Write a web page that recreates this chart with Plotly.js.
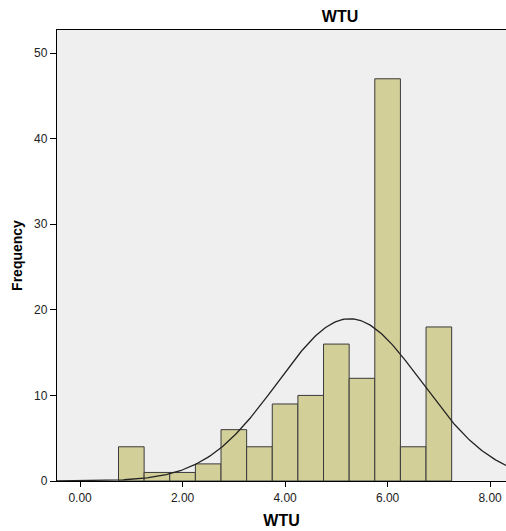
<!DOCTYPE html>
<html>
<head>
<meta charset="utf-8">
<script src="https://cdn.plot.ly/plotly-3.0.1.min.js"></script>
<style>html,body{margin:0;padding:0;background:#fff}#chart{width:506px;height:531px}</style>
</head>
<body>
<div id="chart"></div>
<script>
// Histogram bins (centers) and frequencies
const binCenters = [1.0, 1.5, 2.0, 2.5, 3.0, 3.5, 4.0, 4.5, 5.0, 5.5, 6.0, 6.5, 7.0];
const frequencies = [4, 1, 1, 2, 6, 4, 9, 10, 16, 12, 47, 4, 18];
const binWidth = 0.5;
// Normal curve parameters (SPSS-style fitted normal)
const curveMean = 5.26;
const curveSD = 1.41;
const xTickVals = [0, 2, 4, 6, 8];
const xTickText = ["0.00", "2.00", "4.00", "6.00", "8.00"];
const yTickVals = [0, 10, 20, 30, 40, 50];

const N = frequencies.reduce((a, b) => a + b, 0);
const xMin = -0.45, xMax = 8.31;
const cx = [], cy = [];
for (let i = 0; i <= 300; i++) {
  const x = xMin + (xMax - xMin) * i / 300;
  cx.push(x);
  cy.push(N * binWidth / (curveSD * Math.sqrt(2 * Math.PI)) *
    Math.exp(-Math.pow(x - curveMean, 2) / (2 * curveSD * curveSD)));
}

const traces = [
  {
    type: 'bar', x: binCenters, y: frequencies, width: binWidth,
    marker: {color: '#d3cf99', line: {color: '#3a3a3a', width: 1}},
    hoverinfo: 'x+y'
  },
  {
    type: 'scatter', mode: 'lines', x: cx, y: cy,
    line: {color: '#222222', width: 1.3}, hoverinfo: 'skip'
  }
];

const layout = {
  width: 506, height: 531,
  margin: {l: 57, r: 0, t: 30, b: 50},
  paper_bgcolor: '#ffffff', plot_bgcolor: '#efefef',
  showlegend: false, bargap: 0,
  font: {family: 'Liberation Sans, Arial, sans-serif', color: '#222', size: 12},
  title: {
    text: '<b>WTU</b>', font: {size: 16, color: '#000', family: 'Liberation Sans, Arial, sans-serif'},
    xref: 'container', x: 0.672, xanchor: 'center',
    yref: 'container', y: 0.97, yanchor: 'middle'
  },
  xaxis: {
    range: [xMin, xMax], tickvals: xTickVals, ticktext: xTickText,
    showgrid: false, zeroline: false, showline: true, linecolor: '#000', linewidth: 1.2,
    mirror: true, ticks: 'outside', ticklen: 5, tickcolor: '#000',
    tickfont: {size: 12, color: '#222'},
    title: {text: '<b>WTU</b>', font: {size: 16, color: '#000'}, standoff: 11}
  },
  yaxis: {
    range: [0, 52.7], tickvals: yTickVals,
    showgrid: false, zeroline: false, showline: true, linecolor: '#000', linewidth: 1.2,
    ticks: 'outside', ticklen: 6, tickcolor: '#000',
    tickfont: {size: 12, color: '#222'},
    title: {text: '<b>Frequency</b>', font: {size: 14, color: '#000'}, standoff: 8}
  }
};

Plotly.newPlot('chart', traces, layout, {displayModeBar: false, staticPlot: true});
</script>
</body>
</html>
